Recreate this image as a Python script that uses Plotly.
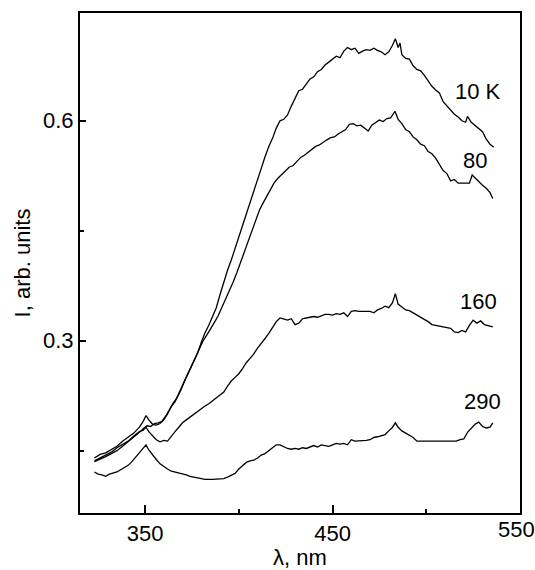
import plotly.graph_objects as go

# ---- data ----
x_10K = [323, 326, 329, 332, 335, 338, 341, 344, 347, 349, 350.5, 352, 354, 356, 358, 360, 362, 364, 366, 368,
         370, 372, 374, 376, 378, 380, 382, 384, 386, 388, 390, 392, 394, 396, 398, 400, 402, 404, 406, 408,
         410, 412, 414, 416, 418, 420, 422, 424, 426, 428, 430, 432, 434, 436, 438, 440, 442, 444, 446, 448,
         450, 452, 454, 456, 458, 460, 462, 464, 466, 468, 470, 472, 474, 476, 478, 480, 482, 483.5, 485, 486,
         487, 489, 491, 493, 495, 497, 499, 501, 503, 505, 507, 509, 511, 513, 515, 517, 519, 521, 522, 524,
         526, 528, 530, 532, 534, 536]
y_10K = [0.140, 0.145, 0.147, 0.152, 0.156, 0.163, 0.168, 0.174, 0.182, 0.190, 0.198, 0.192, 0.186, 0.185, 0.187,
         0.192, 0.200, 0.210, 0.217, 0.228, 0.240, 0.252, 0.262, 0.272, 0.283, 0.298, 0.311, 0.321, 0.333, 0.345,
         0.363, 0.380, 0.396, 0.410, 0.426, 0.442, 0.456, 0.472, 0.488, 0.504, 0.520, 0.535, 0.551, 0.565, 0.576,
         0.590, 0.600, 0.602, 0.608, 0.620, 0.630, 0.641, 0.643, 0.650, 0.657, 0.660, 0.667, 0.670, 0.676, 0.680,
         0.684, 0.688, 0.686, 0.695, 0.700, 0.697, 0.699, 0.692, 0.695, 0.697, 0.696, 0.699, 0.696, 0.694, 0.690,
         0.694, 0.703, 0.712, 0.700, 0.706, 0.690, 0.685, 0.684, 0.675, 0.670, 0.668, 0.662, 0.655, 0.647, 0.642,
         0.638, 0.626, 0.620, 0.615, 0.609, 0.605, 0.600, 0.598, 0.606, 0.598, 0.594, 0.590, 0.585, 0.575, 0.568,
         0.564]

x_80 = [323, 326, 329, 332, 335, 338, 341, 344, 347, 349, 351, 353, 355, 357, 359, 361, 363, 365, 367, 369,
        371, 373, 375, 377, 379, 381, 383, 385, 387, 389, 391, 393, 395, 397, 399, 401, 403, 405, 407, 409,
        411, 413, 415, 417, 419, 421, 423, 425, 427, 429, 431, 433, 435, 437, 439, 441, 443, 445, 447, 449,
        451, 453, 455, 457, 459, 461, 463, 465, 467, 469, 471, 473, 475, 477, 479, 481, 483.3, 485, 487, 489,
        491, 493, 495, 497, 499, 501, 503, 505, 507, 509, 511, 513, 515, 517, 519, 521, 523, 524.5, 526, 528,
        530, 532, 534, 535.5]
y_80 = [0.135, 0.138, 0.142, 0.146, 0.150, 0.156, 0.162, 0.168, 0.175, 0.180, 0.184, 0.183, 0.187, 0.188, 0.190,
        0.197, 0.207, 0.215, 0.222, 0.232, 0.245, 0.256, 0.265, 0.276, 0.289, 0.300, 0.308, 0.316, 0.325, 0.334,
        0.345, 0.357, 0.368, 0.380, 0.393, 0.407, 0.422, 0.437, 0.452, 0.466, 0.478, 0.488, 0.497, 0.505, 0.516,
        0.522, 0.527, 0.532, 0.537, 0.539, 0.545, 0.550, 0.553, 0.557, 0.560, 0.565, 0.567, 0.571, 0.574, 0.577,
        0.578, 0.582, 0.585, 0.588, 0.595, 0.596, 0.593, 0.594, 0.590, 0.586, 0.594, 0.597, 0.601, 0.599, 0.603,
        0.604, 0.613, 0.602, 0.596, 0.588, 0.585, 0.578, 0.574, 0.568, 0.566, 0.558, 0.555, 0.549, 0.540, 0.532,
        0.528, 0.518, 0.520, 0.515, 0.515, 0.515, 0.515, 0.526, 0.522, 0.516, 0.512, 0.508, 0.502, 0.494]

x_160 = [323, 326, 329, 332, 335, 338, 341, 344, 347, 349, 350.5, 352, 354, 356, 358, 360, 362, 364, 366, 368,
         370, 372, 374, 376, 378, 380, 382, 384, 386, 388, 390, 392, 394, 396, 398, 400, 402, 404, 406, 408,
         410, 412, 414, 416, 418, 420, 422, 424, 426, 428, 430, 432, 434, 436, 438, 440, 442, 444, 446, 448,
         450, 452, 454, 456, 458, 460, 462, 464, 466, 468, 470, 472, 474, 476, 478, 480, 482, 483.5, 485, 487,
         489, 491, 493, 495, 497, 499, 501, 503, 505, 507, 509, 511, 513, 515, 517, 519, 521, 523, 525, 527,
         529, 531, 533, 535.5]
y_160 = [0.136, 0.140, 0.144, 0.148, 0.154, 0.158, 0.163, 0.170, 0.176, 0.178, 0.182, 0.176, 0.170, 0.165, 0.162,
         0.164, 0.163, 0.170, 0.176, 0.182, 0.188, 0.192, 0.196, 0.200, 0.203, 0.207, 0.211, 0.214, 0.218, 0.221,
         0.225, 0.230, 0.238, 0.245, 0.250, 0.255, 0.262, 0.270, 0.276, 0.282, 0.290, 0.296, 0.303, 0.310, 0.318,
         0.326, 0.331, 0.330, 0.328, 0.330, 0.322, 0.324, 0.330, 0.331, 0.332, 0.333, 0.332, 0.334, 0.336, 0.336,
         0.335, 0.337, 0.336, 0.338, 0.333, 0.340, 0.341, 0.340, 0.340, 0.339, 0.340, 0.338, 0.342, 0.344, 0.347,
         0.345, 0.352, 0.364, 0.350, 0.346, 0.342, 0.341, 0.338, 0.336, 0.333, 0.330, 0.326, 0.322, 0.321, 0.320,
         0.320, 0.318, 0.317, 0.312, 0.311, 0.314, 0.312, 0.321, 0.328, 0.324, 0.327, 0.322, 0.321, 0.319]

x_290 = [323, 325, 327, 329, 331, 333, 335, 337, 339, 341, 343, 345, 347, 349, 350.5, 352, 354, 356, 358, 360,
         362, 364, 366, 368, 370, 372, 374, 376, 378, 380, 382, 386, 390, 392, 394, 396, 398, 400, 402, 404,
         406, 408, 410, 412, 414, 416, 418, 420, 422, 424, 426, 428, 430, 432, 434, 436, 438, 440, 442, 444,
         446, 448, 450, 452, 454, 456, 458, 460, 462, 464, 466, 468, 470, 472, 474, 476, 478, 480, 482, 483.5,
         485, 487, 489, 491, 493, 495, 497, 500, 504, 508, 512, 516, 518, 520, 522, 524, 526, 528, 530, 532,
         534, 535.5]
y_290 = [0.121, 0.118, 0.117, 0.115, 0.118, 0.119, 0.121, 0.124, 0.127, 0.130, 0.135, 0.141, 0.146, 0.153, 0.158,
         0.151, 0.144, 0.138, 0.132, 0.128, 0.125, 0.122, 0.121, 0.119, 0.118, 0.117, 0.115, 0.114, 0.113, 0.111,
         0.111, 0.111, 0.111, 0.112, 0.114, 0.116, 0.119, 0.125, 0.130, 0.134, 0.136, 0.137, 0.140, 0.144, 0.146,
         0.150, 0.154, 0.158, 0.158, 0.155, 0.153, 0.152, 0.153, 0.152, 0.154, 0.153, 0.155, 0.157, 0.155, 0.158,
         0.157, 0.156, 0.158, 0.160, 0.159, 0.160, 0.158, 0.165, 0.163, 0.163, 0.163, 0.164, 0.165, 0.168, 0.169,
         0.170, 0.172, 0.177, 0.182, 0.188, 0.182, 0.177, 0.174, 0.172, 0.168, 0.163, 0.163, 0.163, 0.163, 0.163,
         0.163, 0.163, 0.165, 0.166, 0.175, 0.181, 0.186, 0.189, 0.183, 0.181, 0.182, 0.188]

series = [(x_10K, y_10K), (x_80, y_80), (x_160, y_160), (x_290, y_290)]

curve_labels = ["10 K", "80", "160", "290"]
label_x = [527.6, 526.0, 528.0, 530.0]
label_y = [0.640, 0.546, 0.353, 0.217]

x_ticks = [350, 450]
x_tick_text = ["350", "450"]
y_ticks = [0.3, 0.6]
y_tick_text = ["0.3", "0.6"]

FONT = "Liberation Sans, Arial, Helvetica, sans-serif"

fig = go.Figure()
for xs, ys in series:
    fig.add_trace(go.Scatter(x=xs, y=ys, mode="lines",
                             line=dict(color="black", width=1.3),
                             showlegend=False, hoverinfo="skip"))

for t, lx, ly in zip(curve_labels, label_x, label_y):
    fig.add_annotation(x=lx, y=ly, text=t, showarrow=False,
                       xanchor="center", yanchor="middle",
                       font=dict(family=FONT, size=22, color="black"))

# 550 label (kept inside the picture as in the reference)
fig.add_annotation(x=550, y=0, xref="x", yref="paper", text="550", showarrow=False,
                   xanchor="center", yanchor="top", xshift=-4, yshift=-2,
                   font=dict(family=FONT, size=22, color="black"))

fig.update_layout(
    width=535, height=570,
    margin=dict(l=80, r=15, t=13, b=57),
    paper_bgcolor="white", plot_bgcolor="white",
    font=dict(family=FONT, size=22, color="black"),
    xaxis=dict(range=[315.3, 550], showgrid=False, zeroline=False, automargin=False,
               showline=True, linecolor="black", linewidth=2, mirror=True,
               tickmode="array", tickvals=x_ticks, ticktext=x_tick_text,
               ticks="inside", ticklen=8, tickwidth=1.5, tickcolor="black",
               minor=dict(tickvals=[400, 500], ticks="inside", ticklen=4, tickwidth=1.5, tickcolor="black"),
               title=dict(text="λ, nm", standoff=9, font=dict(size=22)),
               tickfont=dict(size=22)),
    yaxis=dict(range=[0.065, 0.747], showgrid=False, zeroline=False, automargin=False,
               showline=True, linecolor="black", linewidth=2, mirror=True,
               tickmode="array", tickvals=y_ticks, ticktext=y_tick_text,
               ticks="inside", ticklen=6, tickwidth=1.5, tickcolor="black",
               minor=dict(tickvals=[0.15, 0.45], ticks="inside", ticklen=4, tickwidth=1.5, tickcolor="black"),
               title=dict(text="I, arb. units", standoff=6, font=dict(size=22)),
               tickfont=dict(size=22)),
)

fig.write_html("out.html")
